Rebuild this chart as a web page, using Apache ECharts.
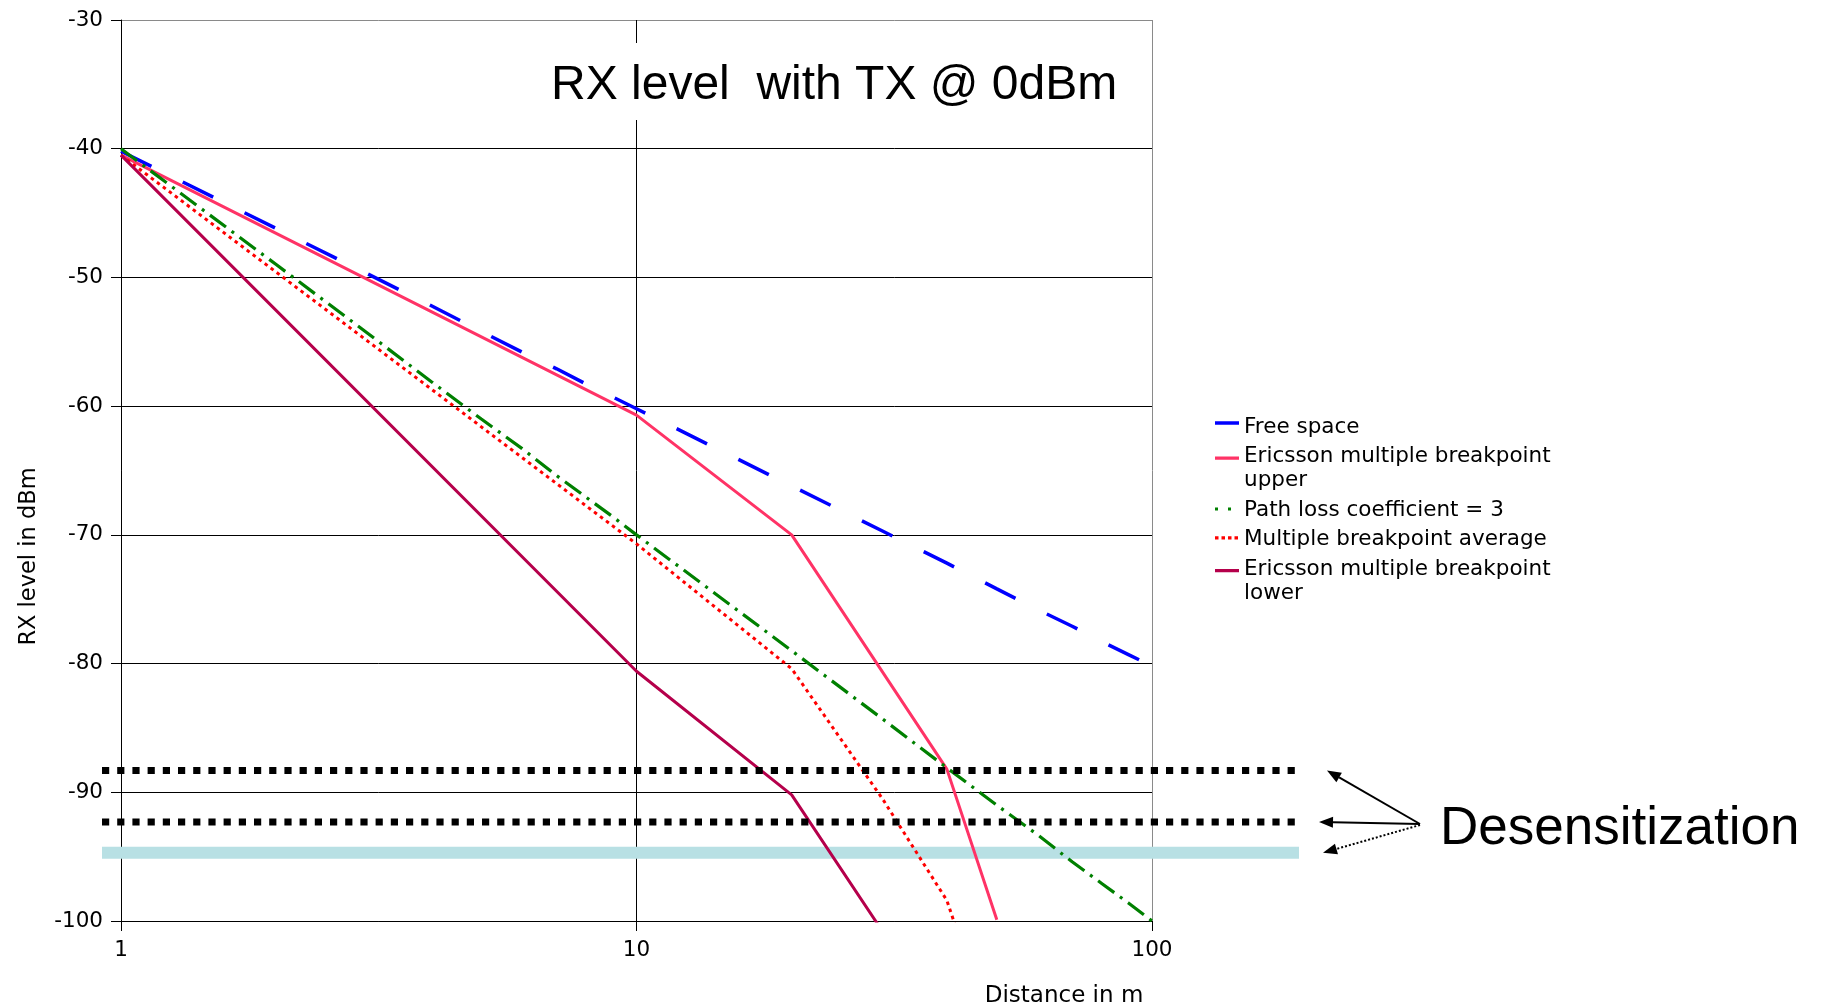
<!DOCTYPE html>
<html>
<head>
<meta charset="utf-8">
<script src="https://cdn.jsdelivr.net/npm/echarts@6/dist/echarts.min.js"></script>
<style>
html,body{margin:0;padding:0;background:#fff;}
#chart{width:1821px;height:1008px;}
</style>
</head>
<body>
<div id="chart"></div>
<script>
// ---------------- data ----------------
const distances = [1, 2, 3, 4, 5, 6, 7, 8, 9, 10, 20, 30, 40, 50, 60, 70, 80, 90, 100];
const freeSpace = [-40.2, -46.2, -49.7, -52.2, -54.2, -55.8, -57.1, -58.3, -59.3, -60.2,
                   -66.2, -69.7, -72.2, -74.2, -75.8, -77.1, -78.3, -79.3, -80.2];
const pathLoss3 = [-40.0, -49.0, -54.3, -58.1, -61.0, -63.3, -65.4, -67.1, -68.6, -70.0,
                   -79.0, -84.3, -88.1, -91.0, -93.3, -95.4, -97.1, -98.6, -100.0];
const upperDistances = [1, 10, 20, 40, 50];
const upperValues = [-40.5, -60.7, -70.0, -88.2, -99.9];
const averageDistances = [1, 10, 20, 30, 40, 50];
const averageValues = [-40.5, -70.7, -80.4, -90.5, -98.4, -110.0];
const lowerDistances = [1, 10, 20, 30];
const lowerValues = [-40.5, -80.6, -90.2, -100.8];
const desenseLevels = [-88.3, -92.3];
const sensitivityLevel = -94.7;
const seriesNames = ['Free space', 'Ericsson multiple breakpoint upper', 'Path loss coefficient = 3',
                     'Multiple breakpoint average', 'Ericsson multiple breakpoint lower'];
const titleText = 'RX level  with TX @ 0dBm';
const xAxisName = 'Distance in m';
const yAxisName = 'RX level in dBm';
const annotationText = 'Desensitization';
const yMin = -100, yMax = -30, yStep = 10;
const xMin = 1, xMax = 100;

// ---------------- styles ----------------
const colors = ['#0000ff', '#ff3366', '#008000', '#ff0000', '#b5004b'];
const FONT = 'DejaVu Sans';
const pairs = (xs, ys) => xs.map((x, i) => [x, ys[i]]);
const pad = 'M0,0h0.01v0.01h-0.01z M23.99,23.99h0.01v0.01h-0.01z ';
const icons = [
  'path://' + pad + 'M0,6.3h24v3.4h-24z',
  'path://' + pad + 'M0,0h24v3.3h-24z',
  'path://' + pad + 'M0,9.5h3v3h-3z M13,9.5h3v3h-3z',
  'path://' + pad + 'M0,8.7h3.5v3.2h-3.5z M6.5,8.7h3.5v3.2h-3.5z M13,8.7h3.5v3.2h-3.5z M19.5,8.7h3.5v3.2h-3.5z',
  'path://' + pad + 'M0,0h24v3.3h-24z'
];

const chart = echarts.init(document.getElementById('chart'), null, {renderer: 'canvas'});

const yLineColors = [];
for (let v = yMin; v <= yMax; v += yStep) yLineColors.push(v === yMax ? '#8a8a8a' : '#000');

const option = {
  animation: false,
  backgroundColor: '#fff',
  textStyle: {fontFamily: FONT},
  title: {
    text: titleText,
    left: 541, top: 43,
    padding: [18, 10, 10, 10],
    backgroundColor: '#fff',
    textStyle: {fontFamily: 'Liberation Sans', fontSize: 48, fontWeight: 'normal', color: '#000', lineHeight: 49}
  },
  legend: {
    orient: 'vertical',
    left: 1215, top: 415,
    padding: 0,
    itemGap: 5.5,
    itemWidth: 24, itemHeight: 24,
    selectedMode: false,
    itemStyle: {borderWidth: 0},
    textStyle: {fontFamily: FONT, fontSize: 21.5, lineHeight: 24, color: '#000'},
    formatter: n => n.replace(' breakpoint upper', ' breakpoint\nupper').replace(' breakpoint lower', ' breakpoint\nlower'),
    data: seriesNames.map((n, i) => ({name: n, icon: icons[i], itemStyle: {color: colors[i], borderWidth: 0}}))
  },
  grid: [
    {left: 121, right: 669, top: 20, bottom: 87, outerBoundsMode: 'none', containLabel: false},
    {left: 102, right: 522, top: 20, bottom: 87, outerBoundsMode: 'none', containLabel: false}
  ],
  xAxis: [
    {
      type: 'log', logBase: 10, min: xMin, max: xMax, gridIndex: 0,
      name: xAxisName, nameLocation: 'middle', nameGap: 64, nameMoveOverlap: false,
      nameTextStyle: {fontFamily: FONT, fontSize: 23, color: '#000', padding: [0, 0, 0, 855]},
      axisLine: {show: true, onZero: false, lineStyle: {color: '#000', width: 1}},
      axisTick: {show: true, inside: false, length: 10, lineStyle: {color: '#000', width: 1}},
      minorTick: {show: false},
      axisLabel: {show: true, margin: 18, color: '#000', fontFamily: FONT, fontSize: 21.5},
      splitLine: {show: true, lineStyle: {color: ['#000', '#000', '#8a8a8a'], width: 1}}
    },
    {type: 'value', min: 0, max: 1, gridIndex: 1, show: false}
  ],
  yAxis: [
    {
      type: 'value', min: yMin, max: yMax, interval: yStep, gridIndex: 0,
      name: yAxisName, nameLocation: 'middle', nameGap: 80, nameMoveOverlap: false,
      nameTextStyle: {fontFamily: FONT, fontSize: 22.5, color: '#000', padding: [0, 172, 0, 0]},
      axisLine: {show: true, lineStyle: {color: '#000', width: 1}},
      axisTick: {show: true, inside: false, length: 10, lineStyle: {color: '#000', width: 1}},
      axisLabel: {show: true, margin: 18, color: '#000', fontFamily: FONT, fontSize: 21.5},
      splitLine: {show: true, lineStyle: {color: yLineColors, width: 1}}
    },
    {type: 'value', min: yMin, max: yMax, gridIndex: 1, show: false}
  ],
  series: [
    {
      name: seriesNames[0], type: 'line', data: pairs(distances, freeSpace), symbol: 'none',
      lineStyle: {color: colors[0], width: 3.5, type: [34, 35], cap: 'butt'}, itemStyle: {color: colors[0]}, z: 2
    },
    {
      name: seriesNames[1], type: 'line', data: pairs(upperDistances, upperValues), symbol: 'none',
      lineStyle: {color: colors[1], width: 3}, itemStyle: {color: colors[1]}, z: 2
    },
    {
      name: seriesNames[2], type: 'line', data: pairs(distances, pathLoss3), symbol: 'none',
      lineStyle: {color: colors[2], width: 3.2, type: [20, 7, 3, 7], cap: 'butt'}, itemStyle: {color: colors[2]}, z: 2
    },
    {
      name: seriesNames[3], type: 'line', data: pairs(averageDistances, averageValues), symbol: 'none',
      lineStyle: {color: colors[3], width: 3, type: [3.5, 4], cap: 'butt'}, itemStyle: {color: colors[3]}, z: 2
    },
    {
      name: seriesNames[4], type: 'line', data: pairs(lowerDistances, lowerValues), symbol: 'none',
      lineStyle: {color: colors[4], width: 3}, itemStyle: {color: colors[4]}, z: 2
    },
    {
      name: 'sensitivity', type: 'line', xAxisIndex: 1, yAxisIndex: 1, silent: true, symbol: 'none',
      data: [[0, sensitivityLevel], [1, sensitivityLevel]],
      lineStyle: {color: '#b8e0e4', width: 12, cap: 'butt'}, emphasis: {disabled: true}, z: 1
    },
    ...desenseLevels.map((lv, i) => ({
      name: 'desense' + i, type: 'line', xAxisIndex: 1, yAxisIndex: 1, silent: true, symbol: 'none',
      data: [[0, lv], [1, lv]],
      lineStyle: {color: '#000', width: 7, type: [7.2, 8], cap: 'butt'}, emphasis: {disabled: true}, z: 3
    }))
  ]
};
chart.setOption(option);

// ---------------- annotation arrows (tips at the levels' pixel positions) ----------------
const yPix = v => chart.convertToPixel({yAxisIndex: 1}, v);
const start = [1420, 824];
const targets = [
  {x: 1327, y: yPix(desenseLevels[0]), dashed: false},
  {x: 1319, y: yPix(desenseLevels[1]), dashed: false},
  {x: 1323, y: yPix(sensitivityLevel), dashed: true}
];
const graphics = [];
targets.forEach(t => {
  const sx = start[0], sy = start[1] + (t.dashed ? 1 : 0);
  const dx = t.x - sx, dy = t.y - sy, len = Math.hypot(dx, dy);
  const ux = dx / len, uy = dy / len, nx = -uy, ny = ux;
  const hl = 14, hw = 5.5;
  const bx = t.x - ux * hl, by = t.y - uy * hl;
  graphics.push({
    type: 'line', silent: true, z: 10,
    shape: {x1: sx, y1: sy, x2: bx, y2: by},
    style: {stroke: '#000', lineWidth: 2, lineDash: t.dashed ? [2, 2] : null}
  });
  graphics.push({
    type: 'polygon', silent: true, z: 10,
    shape: {points: [[t.x, t.y], [bx + nx * hw, by + ny * hw], [bx - nx * hw, by - ny * hw]]},
    style: {fill: '#000'}
  });
});
graphics.push({
  type: 'text', silent: true, z: 10, x: 1440, y: 829,
  style: {text: annotationText, fontFamily: 'Liberation Sans', fontSize: 53, fill: '#000', align: 'left', verticalAlign: 'middle'}
});
chart.setOption({graphic: graphics});
</script>
</body>
</html>
